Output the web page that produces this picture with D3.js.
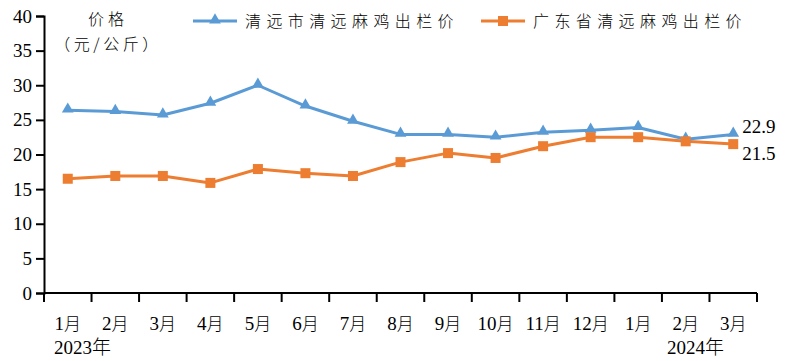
<!DOCTYPE html>
<html>
<head>
<meta charset="utf-8">
<script src="https://cdn.jsdelivr.net/npm/d3@7"></script>
<style>
  body { margin: 0; background: #fff; }
  svg { display: block; }
  .num { font-family: "Liberation Serif", "Times New Roman", serif; }
  .cjk { font-family: "Noto Sans CJK SC", sans-serif; font-weight: 300; }
</style>
</head>
<body>
<div id="chart"></div>
<script>
// Data
const months = ["1月", "2月", "3月", "4月", "5月", "6月", "7月", "8月", "9月", "10月", "11月", "12月", "1月", "2月", "3月"];
const qingyuanCity = [26.4, 26.2, 25.7, 27.4, 30.0, 27.0, 24.8, 22.9, 22.9, 22.5, 23.2, 23.5, 23.9, 22.2, 22.9];
const guangdong = [16.5, 16.9, 16.9, 15.9, 17.9, 17.3, 16.9, 18.9, 20.2, 19.5, 21.2, 22.5, 22.5, 21.9, 21.5];
const seriesNames = ["清远市清远麻鸡出栏价", "广东省清远麻鸡出栏价"];
const yTicks = [0, 5, 10, 15, 20, 25, 30, 35, 40];

const width = 790, height = 361;
const margin = { left: 44, right: 33, top: 16, bottom: 68 };
const colors = ["#5B9BD5", "#ED7D31"];

const svg = d3.select("#chart")
    .append("svg")
    .attr("width", width)
    .attr("height", height);

const x = d3.scaleBand()
    .domain(d3.range(months.length))
    .range([margin.left, width - margin.right]);

const y = d3.scaleLinear()
    .domain([0, 40])
    .range([height - margin.bottom, margin.top]);

const cx = i => x(i) + x.bandwidth() / 2;

// Y axis
const yAxis = svg.append("g")
    .attr("transform", `translate(${margin.left},0)`)
    .call(d3.axisLeft(y).tickValues(yTicks).tickSize(8).tickPadding(4));
yAxis.select(".domain").attr("stroke", "#000").attr("stroke-width", 2);
yAxis.selectAll(".tick line").attr("stroke", "#000").attr("stroke-width", 2);
yAxis.selectAll("text")
    .attr("class", "num")
    .attr("font-size", 19)
    .attr("fill", "#000");

// X axis: ticks at band boundaries
const xAxisG = svg.append("g");
xAxisG.append("line")
    .attr("x1", margin.left)
    .attr("x2", width - margin.right)
    .attr("y1", y(0))
    .attr("y2", y(0))
    .attr("stroke", "#000")
    .attr("stroke-width", 2);
d3.range(months.length + 1).forEach(i => {
    const px = i < months.length ? x(i) : x(months.length - 1) + x.bandwidth();
    xAxisG.append("line")
        .attr("x1", px).attr("x2", px)
        .attr("y1", y(0)).attr("y2", y(0) + 9)
        .attr("stroke", "#000")
        .attr("stroke-width", 2);
});

// Month labels
months.forEach((m, i) => {
    const t = svg.append("text")
        .attr("x", cx(i))
        .attr("y", 330)
        .attr("text-anchor", "middle")
        .attr("fill", "#000");
    const num = m.replace("月", "");
    t.append("tspan").attr("class", "num").attr("font-size", 19).text(num);
    t.append("tspan").attr("class", "cjk").attr("font-size", 17).text("月");
});

// Year labels
[["2023", 54], ["2024", 667]].forEach(([yr, px]) => {
    const t = svg.append("text")
        .attr("x", px)
        .attr("y", 354)
        .attr("fill", "#000");
    t.append("tspan").attr("class", "num").attr("font-size", 19).text(yr);
    t.append("tspan").attr("class", "cjk").attr("font-size", 19).attr("font-weight", 400).text("年");
});

// Y axis title
svg.append("text")
    .attr("class", "cjk")
    .attr("x", 108).attr("y", 25)
    .attr("text-anchor", "middle")
    .attr("font-size", 16)
    .attr("letter-spacing", 4)
    .attr("fill", "#000")
    .text("价格");
svg.append("text")
    .attr("class", "cjk")
    .attr("x", 108).attr("y", 50)
    .attr("text-anchor", "middle")
    .attr("font-size", 16)
    .attr("letter-spacing", 3.5)
    .attr("fill", "#000")
    .text("（元/公斤）");

// Lines
const line = d3.line()
    .x((d, i) => cx(i))
    .y(d => y(d));

const allSeries = [qingyuanCity, guangdong];
allSeries.forEach((vals, s) => {
    svg.append("path")
        .datum(vals)
        .attr("fill", "none")
        .attr("stroke", colors[s])
        .attr("stroke-width", 3)
        .attr("stroke-linejoin", "round")
        .attr("d", line);
});

// Markers
const tri = d3.symbol().type(d3.symbolTriangle).size(60);
svg.append("g").selectAll("path")
    .data(qingyuanCity)
    .join("path")
    .attr("transform", (d, i) => `translate(${cx(i)},${y(d) - 1})`)
    .attr("d", tri)
    .attr("fill", colors[0]);

svg.append("g").selectAll("rect")
    .data(guangdong)
    .join("rect")
    .attr("x", (d, i) => cx(i) - 5)
    .attr("y", d => y(d) - 5)
    .attr("width", 10)
    .attr("height", 10)
    .attr("fill", colors[1]);

// End value labels
const last = months.length - 1;
svg.append("text")
    .attr("class", "num")
    .attr("x", cx(last) + 9)
    .attr("y", y(qingyuanCity[last]) - 1)
    .attr("font-size", 19)
    .attr("fill", "#000")
    .text(qingyuanCity[last].toFixed(1));
svg.append("text")
    .attr("class", "num")
    .attr("x", cx(last) + 9)
    .attr("y", y(guangdong[last]) + 16)
    .attr("font-size", 19)
    .attr("fill", "#000")
    .text(guangdong[last].toFixed(1));

// Legend
const legendItems = [
    { x0: 193, tx: 245, name: seriesNames[0], color: colors[0], marker: "tri" },
    { x0: 481, tx: 533, name: seriesNames[1], color: colors[1], marker: "rect" }
];
legendItems.forEach(item => {
    const g = svg.append("g");
    g.append("line")
        .attr("x1", item.x0).attr("x2", item.x0 + 44)
        .attr("y1", 21).attr("y2", 21)
        .attr("stroke", item.color)
        .attr("stroke-width", 3);
    if (item.marker === "tri") {
        g.append("path")
            .attr("transform", `translate(${item.x0 + 22},20)`)
            .attr("d", tri)
            .attr("fill", item.color);
    } else {
        g.append("rect")
            .attr("x", item.x0 + 17).attr("y", 16)
            .attr("width", 10).attr("height", 10)
            .attr("fill", item.color);
    }
    g.append("text")
        .attr("class", "cjk")
        .attr("x", item.tx)
        .attr("y", 27)
        .attr("font-size", 16)
        .attr("letter-spacing", 5.4)
        .attr("fill", "#000")
        .text(item.name);
});
</script>
</body>
</html>
